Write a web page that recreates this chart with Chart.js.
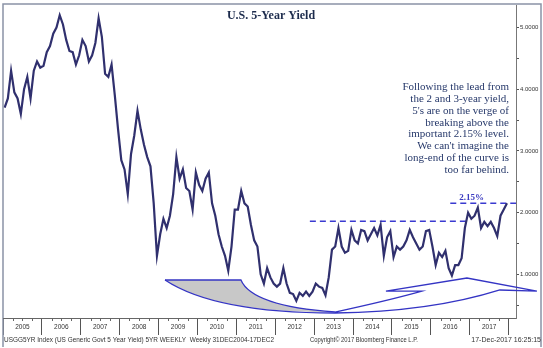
<!DOCTYPE html>
<html>
<head>
<meta charset="utf-8">
<script src="https://cdn.jsdelivr.net/npm/chart.js@4.4.1/dist/chart.umd.min.js"></script>
<style>
  html, body { margin: 0; padding: 0; background: #fff; }
  #wrap { width: 543px; height: 348px; position: relative; }
</style>
</head>
<body>
<div id="wrap"><canvas id="grafico"></canvas></div>
<script>
// US 5 year yield, monthly readings (%)
const years = [2005, 2006, 2007, 2008, 2009, 2010, 2011, 2012, 2013, 2014, 2015, 2016, 2017];
const yield2005 = [3.70, 3.85, 4.30, 3.95, 3.85, 3.60, 4.00, 4.20, 3.85, 4.30, 4.45, 4.35];
const yield2006 = [4.38, 4.60, 4.70, 4.90, 5.00, 5.20, 5.05, 4.80, 4.62, 4.60, 4.40, 4.55];
const yield2007 = [4.80, 4.70, 4.45, 4.55, 4.75, 5.15, 4.85, 4.25, 4.20, 4.40, 3.90, 3.35];
const yield2008 = [2.85, 2.70, 2.30, 2.95, 3.25, 3.65, 3.35, 3.10, 2.90, 2.75, 2.15, 1.30];
const yield2009 = [1.65, 1.90, 1.75, 1.95, 2.30, 2.90, 2.55, 2.70, 2.40, 2.35, 2.05, 2.65];
const yield2010 = [2.45, 2.35, 2.55, 2.65, 2.15, 1.95, 1.65, 1.45, 1.30, 1.06, 1.45, 2.05];
const yield2011 = [2.05, 2.35, 2.15, 2.10, 1.80, 1.55, 1.45, 1.00, 0.85, 1.10, 0.95, 0.85];
const yield2012 = [0.80, 0.85, 1.10, 0.85, 0.70, 0.68, 0.57, 0.70, 0.65, 0.72, 0.65, 0.72];
const yield2013 = [0.85, 0.80, 0.78, 0.66, 0.95, 1.40, 1.45, 1.75, 1.45, 1.35, 1.38, 1.72];
const yield2014 = [1.55, 1.50, 1.72, 1.70, 1.55, 1.65, 1.75, 1.63, 1.80, 1.30, 1.60, 1.70];
const yield2015 = [1.28, 1.45, 1.40, 1.45, 1.55, 1.72, 1.60, 1.50, 1.40, 1.45, 1.70, 1.72];
const yield2016 = [1.45, 1.15, 1.35, 1.28, 1.38, 1.10, 0.98, 1.15, 1.15, 1.26, 1.75, 2.00];
const yield2017 = [1.90, 1.95, 2.08, 1.75, 1.85, 1.78, 1.85, 1.75, 1.62, 1.95, 2.05, 2.15];
const monthly = [yield2005, yield2006, yield2007, yield2008, yield2009, yield2010, yield2011,
                 yield2012, yield2013, yield2014, yield2015, yield2016, yield2017];

const yTicks = [0.5, 1, 1.5, 2, 2.5, 3, 3.5, 4, 4.5, 5];
const resistanceOld = 1.86;   // 2013-2016 highs
const resistanceNew = 2.15;   // level marked 2.15%

const notaTexto = [
  "Following the lead from",
  "the 2 and 3-year yield,",
  "5's are on the verge of",
  "breaking above the",
  "important 2.15% level.",
  "We can't imagine the",
  "long-end of the curve is",
  "too far behind."
];
const rodape = "USGG5YR Index (US Generic Govt 5 Year Yield) 5YR WEEKLY  Weekly 31DEC2004-17DEC2";
const copyright = "Copyright\u00a9 2017 Bloomberg Finance L.P.";
const carimbo = "17-Dec-2017 16:25:15";

// curved arrows drawn on the chart, in (year, yield) units
const seta = {
  a: [2009.165, 0.908], b: [2011.118, 0.908], bc: [2011.401, 0.486], c: [2013.535, 0.389],
  lc1: [2010.45, 0.373], d: [2013.535, 0.373], lc2: [2015.977, 0.389], e: [2017.776, 0.746],
  tip: [2018.727, 0.729], f: [2016.928, 0.940], g: [2014.846, 0.729], h: [2015.771, 0.729],
  hc: [2014.949, 0.583]
};

const pontos = [];
years.forEach((ano, i) => {
  monthly[i].forEach((v, m) => pontos.push({ x: ano + (m + 0.5) / 12, y: v }));
});

const xTicks = [];
for (let a = 2005; a <= 2018; a++) { xTicks.push(a); xTicks.push(a + 0.5); }

const serif = "'Liberation Serif', 'DejaVu Serif', serif";
const sans = "'Liberation Sans', 'DejaVu Sans', sans-serif";

const decoracao = {
  id: 'decoracao',
  beforeDatasetsDraw(chart) {
    const ctx = chart.ctx, xs = chart.scales.x, ys = chart.scales.y;
    const P = k => [xs.getPixelForValue(seta[k][0]), ys.getPixelForValue(seta[k][1])];
    ctx.save();
    // grey wedge
    ctx.beginPath();
    ctx.moveTo(...P('a'));
    ctx.lineTo(...P('b'));
    ctx.quadraticCurveTo(...P('bc'), ...P('c'));
    ctx.quadraticCurveTo(...P('lc1'), ...P('a'));
    ctx.closePath();
    ctx.fillStyle = '#c8c8c8';
    ctx.fill();
    ctx.strokeStyle = '#3434c4';
    ctx.lineWidth = 1.3;
    ctx.beginPath();
    ctx.moveTo(...P('a'));
    ctx.lineTo(...P('b'));
    ctx.quadraticCurveTo(...P('bc'), ...P('c'));
    ctx.stroke();
    // long arrow
    ctx.beginPath();
    ctx.moveTo(...P('a'));
    ctx.quadraticCurveTo(...P('lc1'), ...P('d'));
    ctx.quadraticCurveTo(...P('lc2'), ...P('e'));
    ctx.lineTo(...P('tip'));
    ctx.lineTo(...P('f'));
    ctx.lineTo(...P('g'));
    ctx.lineTo(...P('h'));
    ctx.quadraticCurveTo(...P('hc'), ...P('c'));
    ctx.stroke();

    // dashed levels
    ctx.setLineDash([6, 4]);
    ctx.strokeStyle = '#3a3ad0';
    ctx.lineWidth = 1.5;
    let y1 = ys.getPixelForValue(resistanceOld);
    ctx.beginPath();
    ctx.moveTo(xs.getPixelForValue(2012.89), y1);
    ctx.lineTo(xs.getPixelForValue(2016.9), y1);
    ctx.stroke();
    let y2 = ys.getPixelForValue(resistanceNew);
    ctx.beginPath();
    ctx.moveTo(xs.getPixelForValue(2016.5), y2);
    ctx.lineTo(chart.chartArea.right, y2);
    ctx.stroke();
    ctx.setLineDash([]);
    ctx.fillStyle = '#3a3ac0';
    ctx.font = "bold 9px " + serif;
    ctx.textAlign = 'center';
    ctx.textBaseline = 'bottom';
    ctx.fillText(resistanceNew.toFixed(2) + '%', xs.getPixelForValue(2017.05), y2 - 1);
    ctx.restore();
  },
  afterDraw(chart) {
    const ctx = chart.ctx, ca = chart.chartArea, xs = chart.scales.x;
    ctx.save();
    // frame
    ctx.strokeStyle = '#8a93a6';
    ctx.lineWidth = 1.5;
    ctx.beginPath();
    ctx.moveTo(ca.left, 347); ctx.lineTo(ca.left, 4); ctx.lineTo(541, 4); ctx.lineTo(541, 347);
    ctx.stroke();
    ctx.lineWidth = 1;
    ctx.strokeStyle = '#666';
    ctx.beginPath();
    ctx.moveTo(ca.left, ca.bottom + 0.5); ctx.lineTo(ca.right, ca.bottom + 0.5);
    ctx.stroke();
    // quarter ticks
    ctx.beginPath();
    for (let q = 2005; q < 2018.2; q += 0.25) {
      if (q % 1 === 0) continue;
      const px = Math.round(xs.getPixelForValue(q)) + 0.5;
      ctx.moveTo(px, ca.bottom); ctx.lineTo(px, ca.bottom + 3);
    }
    ctx.stroke();

    // title
    ctx.fillStyle = '#1c2b4c';
    ctx.font = "bold 12px " + serif;
    ctx.textAlign = 'center';
    ctx.textBaseline = 'middle';
    ctx.fillText("U.S. 5-Year Yield", 271, 16);

    // note
    ctx.fillStyle = '#26386a';
    ctx.font = "11px " + serif;
    ctx.textAlign = 'right';
    notaTexto.forEach((t, i) => ctx.fillText(t, 509, 87 + i * 11.9));

    // footer
    ctx.fillStyle = '#333';
    ctx.font = "7px " + sans;
    ctx.textAlign = 'left';
    ctx.textBaseline = 'middle';
    ctx.fillText(rodape, 4, 340, 270);
    ctx.fillText(copyright, 310, 340, 108);
    ctx.textAlign = 'right';
    ctx.fillText(carimbo, 541, 340, 72);
    ctx.restore();
  }
};

new Chart(document.getElementById('grafico'), {
  type: 'line',
  data: {
    datasets: [{
      label: 'USGG5YR',
      data: pontos,
      borderColor: '#30306e',
      borderWidth: 2.2,
      pointRadius: 0,
      tension: 0
    }]
  },
  options: {
    responsive: true,
    maintainAspectRatio: false,
    animation: false,
    layout: { padding: { left: 3, top: 5, right: 0, bottom: 0 } },
    plugins: { legend: { display: false }, tooltip: { enabled: false } },
    scales: {
      x: {
        type: 'linear',
        min: 2005,
        max: 2018.19,
        afterBuildTicks: s => { s.ticks = xTicks.filter(v => v <= 2018.19).map(v => ({ value: v })); },
        afterFit: s => { s.height = 30; },
        border: { display: false },
        grid: {
          drawOnChartArea: false,
          tickLength: 17,
          color: c => (c.tick && c.tick.value % 1 === 0) ? '#555' : 'rgba(0,0,0,0)'
        },
        ticks: {
          autoSkip: false,
          maxRotation: 0,
          padding: -12,
          color: '#333',
          font: { size: 6.5, family: sans },
          callback: v => (v % 1 === 0.5) ? String(Math.floor(v)) : ''
        }
      },
      y: {
        position: 'right',
        min: 0.292,
        max: 5.365,
        afterBuildTicks: s => { s.ticks = yTicks.map(v => ({ value: v })); },
        afterFit: s => { s.width = 27; },
        border: { color: '#777' },
        grid: { drawOnChartArea: false, tickLength: 3, color: '#555' },
        ticks: {
          padding: 1,
          color: '#333',
          font: { size: 6, family: sans },
          callback: v => (v % 1 === 0) ? v.toFixed(4) : ''
        }
      }
    }
  },
  plugins: [decoracao]
});
</script>
</body>
</html>
